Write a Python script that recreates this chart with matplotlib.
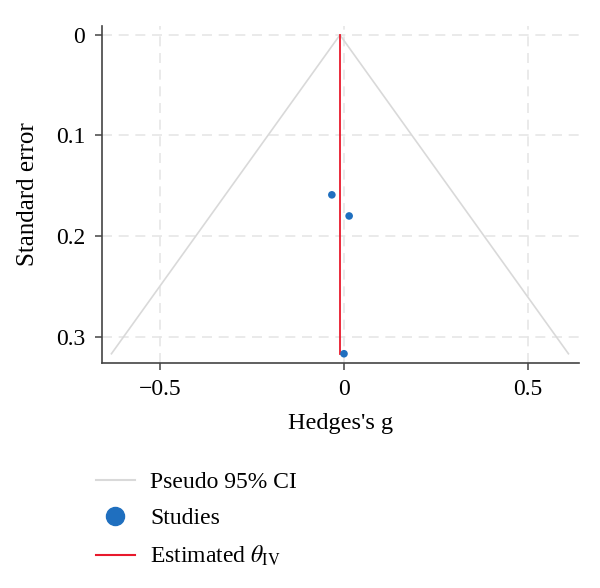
import matplotlib
matplotlib.use('Agg')
import matplotlib.pyplot as plt
from matplotlib.lines import Line2D

# Datos del funnel plot
hedges_g = [-0.033, 0.014, 0.0]
std_err = [0.159, 0.180, 0.317]
theta_iv = -0.011
se_max = 0.317

x_ticks = [-0.5, 0, 0.5]
x_labels = ['\u22120.5', '0', '0.5']
y_ticks = [0, 0.1, 0.2, 0.3]
y_labels = ['0', '0.1', '0.2', '0.3']

plt.rcParams['font.family'] = ['Liberation Serif', 'DejaVu Serif']
plt.rcParams['mathtext.fontset'] = 'stix'

fig = plt.figure(figsize=(6, 5.88), dpi=100)
ax = fig.add_axes([0.17, 0.383, 0.795, 0.573])

# Pseudo 95% CI
ci_x = [theta_iv - 1.96 * se_max, theta_iv, theta_iv + 1.96 * se_max]
ci_y = [se_max, 0, se_max]
ax.plot(ci_x, ci_y, color='#d9d9d9', lw=1.2, zorder=2)

# Efecto estimado
ax.plot([theta_iv, theta_iv], [0, std_err[2]], color='#e8192c', lw=1.3, zorder=3)

# Estudios
ax.scatter(hedges_g, std_err, s=30, color='#1f6fbf', zorder=4, edgecolors='none')

ax.set_xlim(-0.658, 0.639)
ax.set_ylim(0.326, -0.009)
ax.set_xticks(x_ticks)
ax.set_xticklabels(x_labels)
ax.set_yticks(y_ticks)
ax.set_yticklabels(y_labels)
ax.grid(True, linestyle=(0, (6, 4)), color='#e6e6e6', lw=1.2, zorder=0)
ax.set_axisbelow(True)

for lado in ['top', 'right']:
  ax.spines[lado].set_visible(False)
for lado in ['left', 'bottom']:
  ax.spines[lado].set_color('#444444')
  ax.spines[lado].set_linewidth(1.2)
ax.tick_params(colors='#444444', labelcolor='black', labelsize=17, length=5, width=1.1, pad=7)

ax.set_xlabel("Hedges's g", fontsize=17.5, labelpad=9)
ax.set_ylabel('Standard error', fontsize=18, labelpad=12)

handles = [
  Line2D([], [], color='#d9d9d9', lw=1.5),
  Line2D([], [], color='#1f6fbf', marker='o', ls='none', markersize=13),
  Line2D([], [], color='#e8192c', lw=1.5),
]
etiquetas = ['Pseudo 95% CI', 'Studies', r'Estimated $\theta_{\mathrm{IV}}$']
fig.legend(handles, etiquetas, loc='upper left', bbox_to_anchor=(0.16, 0.198),
           frameon=False, fontsize=17, handlelength=1.65, labelspacing=0.62,
           handletextpad=0.65, borderpad=0, borderaxespad=0)

fig.savefig('out.png', dpi=100)
